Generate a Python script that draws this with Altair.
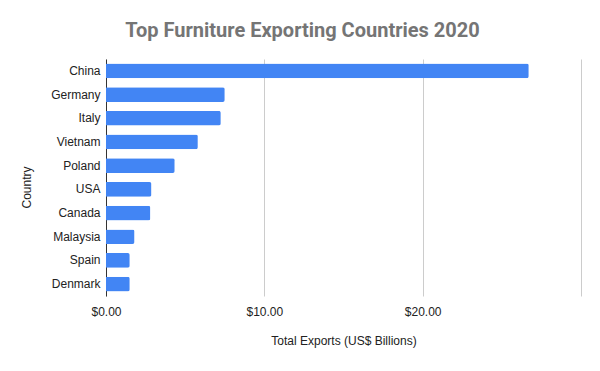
import altair as alt
import pandas as pd

countries = ["China", "Germany", "Italy", "Vietnam", "Poland", "USA", "Canada", "Malaysia", "Spain", "Denmark"]
exports = [26.7, 7.5, 7.25, 5.8, 4.34, 2.87, 2.8, 1.8, 1.5, 1.5]

df = pd.DataFrame({"Country": countries, "Exports": exports})

chart = alt.Chart(df).mark_bar(color="#4285F4", cornerRadiusEnd=2).encode(
    x=alt.X("Exports:Q",
            scale=alt.Scale(domain=[0, 30], nice=False),
            axis=alt.Axis(values=[0, 10, 20, 30], grid=True, gridColor="#cccccc",
                          domain=False, ticks=False, labelPadding=10, labelFlush=False,
                          labelExpr="datum.value >= 30 ? '' : format(datum.value, '$.2f')",
                          labelFont="Liberation Sans", labelFontSize=12, labelColor="#222222",
                          title="Total Exports (US$ Billions)", titleFont="Liberation Sans",
                          titleFontSize=12, titleFontWeight="normal", titleColor="#222222",
                          titlePadding=18)),
    y=alt.Y("Country:N", sort=countries,
            scale=alt.Scale(paddingInner=0.38, paddingOuter=0.19),
            axis=alt.Axis(domain=True, domainColor="#333333", ticks=False, labelPadding=6,
                          labelFont="Liberation Sans", labelFontSize=12, labelColor="#222222",
                          title="Country", titleFont="Liberation Sans", titleFontSize=12,
                          titleFontWeight="normal", titleColor="#222222",
                          titleX=-80, titleY=128, titleAngle=-90, titleBaseline="middle",
                          titleAlign="center")),
).properties(
    width=475, height=237,
    title=alt.TitleParams("Top Furniture Exporting Countries 2020", font="Roboto",
                          fontSize=20, fontWeight="bold", color="#757575",
                          anchor="middle", dx=-41, offset=18),
    padding={"left": 98, "top": 51, "right": 11, "bottom": 67},
    autosize=alt.AutoSizeParams(type="none"),
).configure_view(stroke=None)

chart.save("out.html", embed_options={"renderer": "svg", "actions": False})
